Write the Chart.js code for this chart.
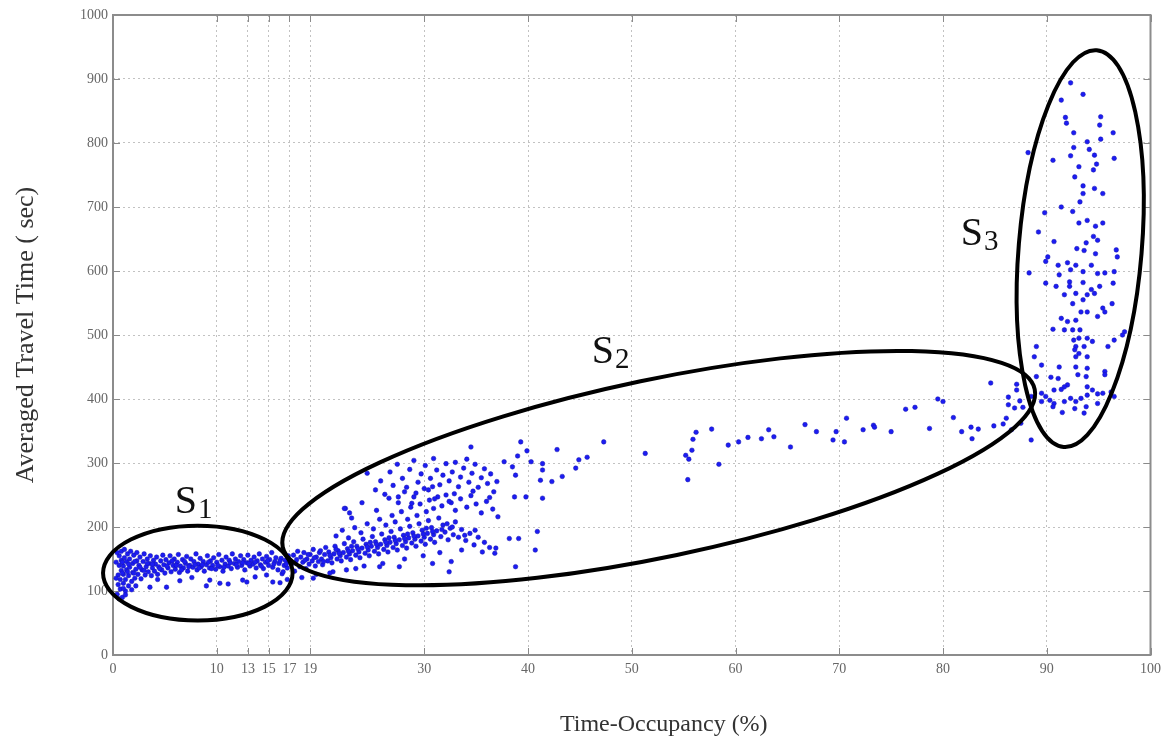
<!DOCTYPE html>
<html><head><meta charset="utf-8">
<script src="https://cdn.jsdelivr.net/npm/chart.js@4.4.1/dist/chart.umd.min.js"></script>
<style>html,body{margin:0;padding:0;background:#fff;}#wrap{width:1167px;height:742px;}</style>
</head><body><div id="wrap"><canvas id="c" width="1167" height="742"></canvas></div>
<script>
const xTickValues = [0,10,13,15,17,19,30,40,50,60,70,80,90,100];
const yTickValues = [0,100,200,300,400,500,600,700,800,900,1000];
const xTitle = 'Time-Occupancy (%)';
const yTitle = 'Averaged Travel Time ( sec)';

const s1Points = [
[0.4,95],[0.5,110],[0.5,125],[0.6,140],[0.6,155],[0.7,103],[0.7,118],[0.8,132],[0.8,148],[0.8,162],[0.9,90],[1.0,112],[1.0,126],[1.0,139],[1.1,152],[1.1,165],[1.2,100],[1.2,118],[1.3,133],[1.3,146],[1.4,158],[1.5,108],[1.5,124],[1.6,137],[1.6,150],[1.7,162],[1.8,115],[1.9,129],[1.9,143],[2.0,156],[2.1,120],[2.2,134],[2.3,147],[2.3,160],[2.4,126],[2.5,140],[2.6,153],[2.7,119],[2.8,133],[2.9,146],[3.0,158],[3.1,125],[3.2,138],[3.3,150],[3.4,130],[3.5,143],[3.6,155],[3.7,124],[3.8,136],[3.9,148],[4.0,131],[4.1,142],[4.2,153],[4.3,126],[4.4,138],[4.6,147],[4.7,133],[4.8,156],[4.9,141],[5.0,128],[5.1,149],[5.3,136],[5.4,144],[5.5,155],[5.6,130],[5.8,140],[5.9,150],[6.0,134],[6.2,145],[6.3,157],[6.4,129],[6.5,139],[6.7,149],[6.8,136],[7.0,143],[7.1,154],[7.2,131],[7.4,140],[7.5,150],[7.7,137],[7.8,146],[8.0,158],[8.1,133],[8.2,142],[8.4,151],[8.5,138],[8.7,146],[8.8,131],[9.0,141],[9.1,155],[9.3,136],[9.4,147],[9.6,140],[9.7,152],[9.9,134],[10.0,145],[10.2,157],[10.3,138],[10.5,148],[10.6,131],[10.8,142],[10.9,153],[11.1,139],[11.2,148],[11.4,135],[11.5,158],[11.7,143],[11.8,150],[12.0,137],[12.1,146],[12.3,155],[12.4,140],[12.6,149],[12.7,133],[12.9,144],[13.0,156],[13.2,139],[13.3,148],[13.5,142],[13.6,153],[13.8,136],[13.9,147],[14.1,158],[14.2,141],[14.4,150],[14.5,135],[14.7,145],[14.8,154],[15.0,140],[15.1,149],[15.3,160],[15.4,137],[15.6,146],[15.7,152],[15.9,133],[16.0,143],[16.2,151],[16.3,127],[16.5,140],[16.6,148],[16.8,136],[16.9,155],
[0.3,120],[0.3,145],[0.4,160],[0.9,128],[0.9,145],[1.4,130],[1.5,142],[2.0,128],[2.1,146],[2.6,137],[3.0,132],[3.3,143],[3.8,142],[4.5,135],[5.2,139],[5.7,147],[6.1,140],[6.6,133],[6.9,146],[7.3,138],[7.9,141],[8.3,136],[8.6,141],[9.2,145],[9.5,135],[10.1,140],[10.7,137],[11.3,144],[11.9,141],[12.5,144],[13.1,143],[13.7,145],[14.3,139],[14.9,147],[15.5,142],[16.1,147],[16.7,142],[17.0,146],
[3.56,106],[5.16,106],[6.44,116],[9.0,108],[9.33,117],[10.3,112],[11.1,111],[12.5,117],[12.9,114],[14.8,125],[15.4,114],[16.1,113],[16.4,130],[1.0,104],[1.8,102],[0.6,88],[1.2,94],[2.2,108],[4.3,118],[7.6,121],[13.7,122],[16.8,118]
];

const s2Points = [
[17.2,142],[17.4,156],[17.5,131],[17.7,149],[17.8,162],[18.0,138],[18.1,153],[18.3,145],[18.4,160],[18.6,135],[18.7,150],[18.9,142],[19.0,157],[19.2,147],[19.3,165],[19.5,139],[19.6,153],[19.8,146],[19.9,160],[20.1,150],[20.2,141],[20.4,157],[20.5,168],[20.7,147],[20.8,161],[21.0,152],[21.1,144],[21.3,158],[21.4,170],[21.6,150],[21.7,163],[21.9,155],[22.0,147],[22.2,160],[22.3,174],[22.5,153],[22.6,166],[22.8,158],[22.9,149],[23.1,163],[23.2,177],[23.4,156],[23.5,170],[23.7,161],[23.8,152],[24.0,167],[24.1,181],[24.3,159],[24.4,173],[24.6,164],[24.7,155],[24.9,170],[25.0,185],[25.2,162],[25.3,177],[25.5,168],[25.6,158],[25.8,173],[25.9,189],[26.1,165],[26.2,180],[26.4,171],[26.5,161],[26.7,176],[26.8,193],[27.0,168],[27.1,184],[27.3,174],[27.4,164],[27.6,180],[27.7,197],[27.9,171],[28.0,187],[28.2,177],[28.3,167],[28.5,183],[28.6,201],[28.8,175],[28.9,191],[29.1,181],[29.2,170],[29.4,186],[29.5,205],[29.7,178],[29.8,195],[30.0,184],[30.1,173],[30.3,190],[30.4,210],[30.6,181],[30.7,199],[30.9,188],[31.0,176],[31.2,194],[31.4,214],[31.6,185],[31.8,203],[32.0,192],[32.3,180],[32.5,198],[32.8,188],[33.0,208],[33.3,184],[33.6,196],[34.0,179],[34.4,190],[34.8,172],[35.2,184],[35.8,176],[36.3,168],[36.8,159],
[17.6,144],[18.5,148],[19.4,152],[20.3,146],[20.9,156],[21.8,159],[22.7,162],[23.6,166],[24.5,169],[25.4,173],[26.3,176],[27.2,179],[28.1,182],[29.0,186],[29.9,189],[30.8,193],[31.7,196],[32.7,200],[33.9,187],[34.9,195],[18.8,157],[20.0,163],[21.5,165],[23.0,170],[24.8,176],[26.6,183],[28.4,189],[30.2,198],[32.2,205],
[18.2,121],[19.6,126],[21.2,130],[22.5,133],[24.2,139],[26.0,143],[28.1,150],[29.9,155],[31.5,160],[33.6,164],
[21.5,186],[22.1,195],[22.7,183],[23.3,199],[23.9,191],[24.5,205],[25.1,197],[25.7,212],[26.3,203],[26.9,218],[27.2,208],[27.8,224],[28.4,212],[28.7,231],[29.3,218],[29.6,236],[30.2,224],[30.5,242],[30.9,229],[31.3,247],[31.7,233],[32.1,250],[32.6,238],[33.0,226],[33.5,244],[34.1,231],[34.5,249],[35.0,236],[35.5,222],[36.0,240],[36.6,228],[37.1,216],[22.4,229],[23.0,214],[24.0,238],[25.4,226],[26.6,245],[27.5,238],[28.1,255],[29.0,247],[30.0,260],
[25.3,258],[25.8,272],[26.2,251],[26.7,286],[27.0,265],[27.4,298],[27.9,276],[28.3,262],[28.6,290],[29.0,304],[29.4,270],[29.7,283],[30.1,296],[30.4,258],[30.6,276],[30.9,307],[31.2,289],[31.5,266],[31.8,281],[32.1,299],[32.4,272],[32.7,286],[33.0,301],[33.3,263],[33.5,278],[33.8,292],[34.1,306],[34.3,270],[34.6,284],[34.9,298],[35.2,262],[35.5,277],[35.8,291],[36.1,268],[36.4,283],[36.7,255],[37.0,271],[29.2,253],[31.0,244],[32.9,252],[34.7,256],[36.3,246],[27.5,247],[28.8,237],[30.8,263],[32.4,240],
[34.5,325],[40.9,193],[39.1,182],[38.2,182],[40.7,164],[36.9,167],[35.6,161],[38.8,138],[32.6,146],[32.4,130],[30.8,143],[27.6,138],[25.7,138],[23.4,135],[20.9,128],[19.3,120],[24.5,284],[22.3,229],[22.8,222],
[39.3,333],[39.9,319],[39.0,311],[37.7,302],[40.3,302],[38.5,294],[38.8,281],[41.4,299],[41.4,289],[42.8,321],[41.2,273],[42.3,271],[43.3,279],[44.6,292],[44.9,305],[45.7,309],[47.3,333],[51.3,315],[55.2,312],[55.5,306],[55.8,320],[55.9,337],[56.2,348],[55.4,274],[57.7,353],[58.4,298],[59.3,328],[60.3,333],[61.2,340],[62.5,338],[63.2,352],[63.7,341],[65.3,325],[66.7,360],[67.8,349],[69.4,336],[69.7,349],[70.5,333],[70.7,370],[38.7,247],[39.8,247],[41.4,245],
[84.6,425],[87.1,423],[87.1,414],[79.5,400],[80.0,396],[76.4,384],[77.3,387],[86.3,403],[87.4,397],[86.9,386],[87.7,387],[86.3,391],[81.0,371],[73.3,359],[72.3,352],[73.4,356],[75.0,349],[78.7,354],[81.8,349],[82.7,356],[83.4,353],[82.8,338],[84.9,358],[85.8,361],[86.1,370],[86.6,352],[87.5,362],[88.5,404],[88.5,336]
];

const s3Points = [
[92.3,894],[93.5,876],[91.4,867],[91.8,840],[91.9,831],[95.2,841],[95.1,828],[96.4,816],[92.6,816],[93.9,802],[95.2,806],[92.6,793],[94.1,790],[88.2,785],[92.3,780],[94.6,781],[96.5,776],[90.6,773],[94.8,767],[93.1,763],[94.5,758],[92.7,747],[93.5,733],[94.6,729],[93.5,721],[95.4,721],[93.2,708],[91.4,700],[92.5,693],[89.8,691],[93.9,679],[93.1,675],[94.7,670],[95.4,675],[89.2,661],[94.5,654],[94.9,648],[90.7,646],[93.8,644],[92.9,635],[93.6,632],[94.7,627],[96.7,633],[96.8,622],[90.1,622],
[89.9,615],[91.1,609],[92.0,613],[92.8,609],[94.3,609],[88.3,597],[91.2,594],[92.3,602],[93.5,599],[94.9,596],[95.6,597],[96.5,599],[89.9,581],[90.9,576],[92.2,583],[92.2,576],[93.5,582],[94.3,571],[95.1,576],[96.4,581],[91.7,563],[92.8,565],[93.9,563],[94.6,565],[92.5,549],[93.5,555],[95.4,542],[96.3,549],[93.3,536],[93.9,536],[91.4,526],[92.0,521],[92.8,523],[94.9,529],[95.6,536],[90.6,509],[91.7,508],[92.5,508],[93.2,508],[97.5,505],[97.3,500],[92.6,492],[93.1,495],[93.9,495],[94.4,490],[96.5,492],[95.9,482],[89.0,482],[92.8,482],[93.6,482],[92.7,477],[93.1,471],[88.8,466],[92.8,466],[93.9,466],[89.5,453],[91.2,450],[92.8,450],[93.9,448],[95.6,443],[89.0,435],[90.4,434],[91.1,432],[93.0,438],[93.8,435],[95.6,438],[92.0,422],[91.7,419],[91.4,415],[93.9,419],[94.4,414],[90.7,414],[89.5,409],[89.9,404],[90.3,398],[89.5,396],[90.7,393],[91.7,396],[92.3,401],[92.8,396],[93.3,401],[93.9,406],[94.9,408],[95.4,409],[96.2,411],[96.5,404],[94.9,393],[93.8,388],[92.7,385],[91.5,379],[90.6,388],[93.6,378]
];

// region ellipses: major-axis end points (data units) and minor/major ratio
const ellipseAxisEnds = [[[-0.96,128],[17.31,128]],[[16.36,169],[88.84,415]],[[94.82,945],[91.63,325]]];
const ellipseAxisRatios = [0.5,0.231,0.309];
const regionNames = ['S','S','S'];
const regionSubs = ['1','2','3'];
const regionLabelAnchors = [[5.96,222],[46.15,456],[81.7,641]];
const xTitleShift = 32;

const overlay = {
  id: 'overlay',
  beforeDatasetsDraw(chart) {
    const {ctx, chartArea: a, scales: {x, y}} = chart;
    ctx.save();
    ctx.strokeStyle = '#8a8a8a';
    ctx.lineWidth = 1;
    const tl = 7;
    ctx.beginPath();
    xTickValues.forEach(v => {
      const px = Math.round(x.getPixelForValue(v)) + 0.5;
      ctx.moveTo(px, a.bottom); ctx.lineTo(px, a.bottom - tl);
      ctx.moveTo(px, a.top); ctx.lineTo(px, a.top + tl);
    });
    yTickValues.forEach(v => {
      const py = Math.round(y.getPixelForValue(v)) + 0.5;
      ctx.moveTo(a.left, py); ctx.lineTo(a.left + tl, py);
      ctx.moveTo(a.right, py); ctx.lineTo(a.right - tl, py);
    });
    ctx.stroke();
    ctx.lineWidth = 2;
    ctx.strokeStyle = '#8c8c8c';
    ctx.strokeRect(a.left, a.top, a.right - a.left, a.bottom - a.top);
    ctx.restore();
  },
  afterDatasetsDraw(chart) {
    const {ctx, chartArea: a, scales: {x, y}} = chart;
    ctx.save();
    ctx.strokeStyle = '#000';
    ctx.lineWidth = 4;
    ellipseAxisEnds.forEach((e, i) => {
      const x1 = x.getPixelForValue(e[0][0]), y1 = y.getPixelForValue(e[0][1]);
      const x2 = x.getPixelForValue(e[1][0]), y2 = y.getPixelForValue(e[1][1]);
      const ra = Math.hypot(x2 - x1, y2 - y1) / 2;
      const rb = ra * ellipseAxisRatios[i];
      ctx.beginPath();
      ctx.ellipse((x1 + x2) / 2, (y1 + y2) / 2, ra, rb, Math.atan2(y2 - y1, x2 - x1), 0, Math.PI * 2);
      ctx.stroke();
    });
    ctx.fillStyle = '#111';
    ctx.textBaseline = 'alphabetic';
    ctx.textAlign = 'left';
    regionLabelAnchors.forEach((p, i) => {
      const px = x.getPixelForValue(p[0]), py = y.getPixelForValue(p[1]);
      ctx.font = '40px "Liberation Serif"';
      ctx.fillText(regionNames[i], px, py);
      const w = ctx.measureText(regionNames[i]).width;
      ctx.font = '29px "Liberation Serif"';
      ctx.fillText(regionSubs[i], px + w + 1, py + 5);
    });
    // x-axis title
    ctx.font = '24px "Liberation Serif"';
    ctx.fillStyle = '#333';
    ctx.textAlign = 'center';
    ctx.textBaseline = 'middle';
    ctx.fillText(xTitle, (a.left + a.right) / 2 + xTitleShift, 725);
    ctx.restore();
  }
};

const pointStyle = {
  pointRadius: 2.3, pointBackgroundColor: '#1c1cf2', pointBorderColor: '#1414b0', pointBorderWidth: 0.5, showLine: false
};
const toXY = arr => arr.map(p => ({x: p[0], y: p[1]}));

new Chart(document.getElementById('c'), {
  type: 'scatter',
  data: {datasets: [
    Object.assign({label: 'S1', data: toXY(s1Points)}, pointStyle),
    Object.assign({label: 'S2', data: toXY(s2Points)}, pointStyle),
    Object.assign({label: 'S3', data: toXY(s3Points)}, pointStyle)
  ]},
  options: {
    responsive: false, animation: false, devicePixelRatio: 1,
    layout: {padding: {left: 0, right: 14, top: 15, bottom: 0}},
    plugins: {legend: {display: false}, tooltip: {enabled: false}},
    scales: {
      x: {
        type: 'linear', min: 0, max: 100,
        afterBuildTicks: s => { s.ticks = xTickValues.map(v => ({value: v})); },
        afterFit: s => { s.height = 87; },
        grid: {color: '#c2c2c2', lineWidth: 1, drawTicks: false},
        border: {display: false, dash: [2, 3]},
        ticks: {font: {family: 'Liberation Serif', size: 14}, color: '#666', padding: 6, autoSkip: false, maxRotation: 0, callback: v => String(v)},
        title: {display: false}
      },
      y: {
        type: 'linear', min: 0, max: 1000,
        afterBuildTicks: s => { s.ticks = yTickValues.map(v => ({value: v})); },
        afterFit: s => { s.width = 113; },
        grid: {color: '#c2c2c2', lineWidth: 1, drawTicks: false},
        border: {display: false, dash: [2, 3]},
        ticks: {font: {family: 'Liberation Serif', size: 14}, color: '#666', padding: 5, callback: v => String(v)},
        title: {display: true, text: yTitle, font: {family: 'Liberation Serif', size: 26}, color: '#333', padding: {top: 11, bottom: 0}}
      }
    }
  },
  plugins: [overlay]
});
</script>
</body></html>
